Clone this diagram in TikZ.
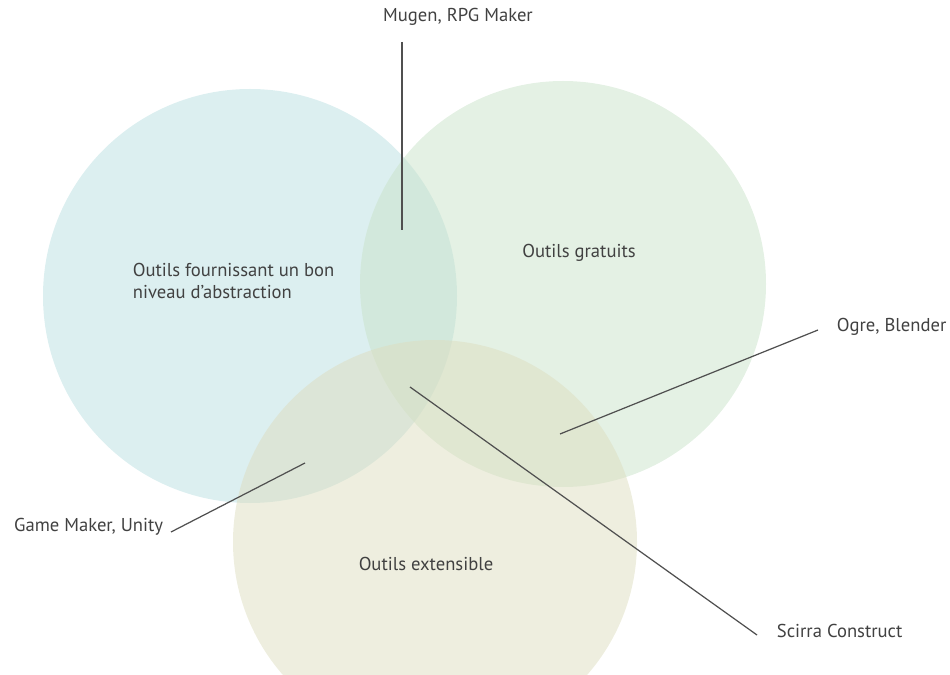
\documentclass[tikz,border=0pt]{standalone}
\usepackage{fontspec}
\setmainfont{PT Sans}
\usetikzlibrary{positioning}

\definecolor{setblue}{RGB}{185,223,225}
\definecolor{setgreen}{RGB}{201,227,201}
\definecolor{setbeige}{RGB}{221,221,191}
\definecolor{leadgray}{RGB}{80,80,80}
\definecolor{textgray}{RGB}{65,65,65}

\begin{document}
\begin{tikzpicture}[
    x=0.02cm, y=-0.02cm,
    set/.style = {
        fill opacity=0.5
    },
    label/.style = {
        text=textgray,
        font=\fontsize{10.6}{13}\selectfont,
        inner sep=2pt
    },
    leader/.style = {
        draw=leadgray,
        line width=0.7pt
    }
]

\useasboundingbox (0,0) rectangle (950,675);
\clip (0,0) rectangle (950,675);

% Circles
\fill[set, setblue]  (250,296) circle [radius=207];
\fill[set, setgreen] (563,284) circle [radius=203];
\fill[set, setbeige] (435,542) circle [radius=202];

% Set names
\node[label, align=left, anchor=west] (abstr) at (129,281) {Outils fournissant un bon\\niveau d’abstraction};
\node[label] (gratuits) at (579,253) {Outils gratuits};
\node[label] (extens)   at (426,564) {Outils extensible};

% Tool labels
\node[label] (mugen)     at (458,17)  {Mugen, RPG Maker};
\node[label, anchor=west] (ogre)  at (833,327) {Ogre, Blender};
\node[label, anchor=east] (gamemk) at (167,527) {Game Maker, Unity};
\node[label, anchor=west] (scirra) at (773,631) {Scirra Construct};

% Leader end points
\coordinate (mugenTop) at (402,42);
\coordinate (mugenPt)  at (402,230);
\coordinate (ogreEnd)  at (818,330);
\coordinate (ogrePt)   at (560,434);
\coordinate (gamemkEnd) at (171,532);
\coordinate (gamemkPt) at (305,463);
\coordinate (scirraEnd) at (757,635);
\coordinate (scirraPt) at (410,387);

% Leaders
\draw[leader] (mugenTop) -- (mugenPt);
\draw[leader] (ogreEnd) -- (ogrePt);
\draw[leader] (gamemkEnd) -- (gamemkPt);
\draw[leader] (scirraEnd) -- (scirraPt);

\end{tikzpicture}
\end{document}
